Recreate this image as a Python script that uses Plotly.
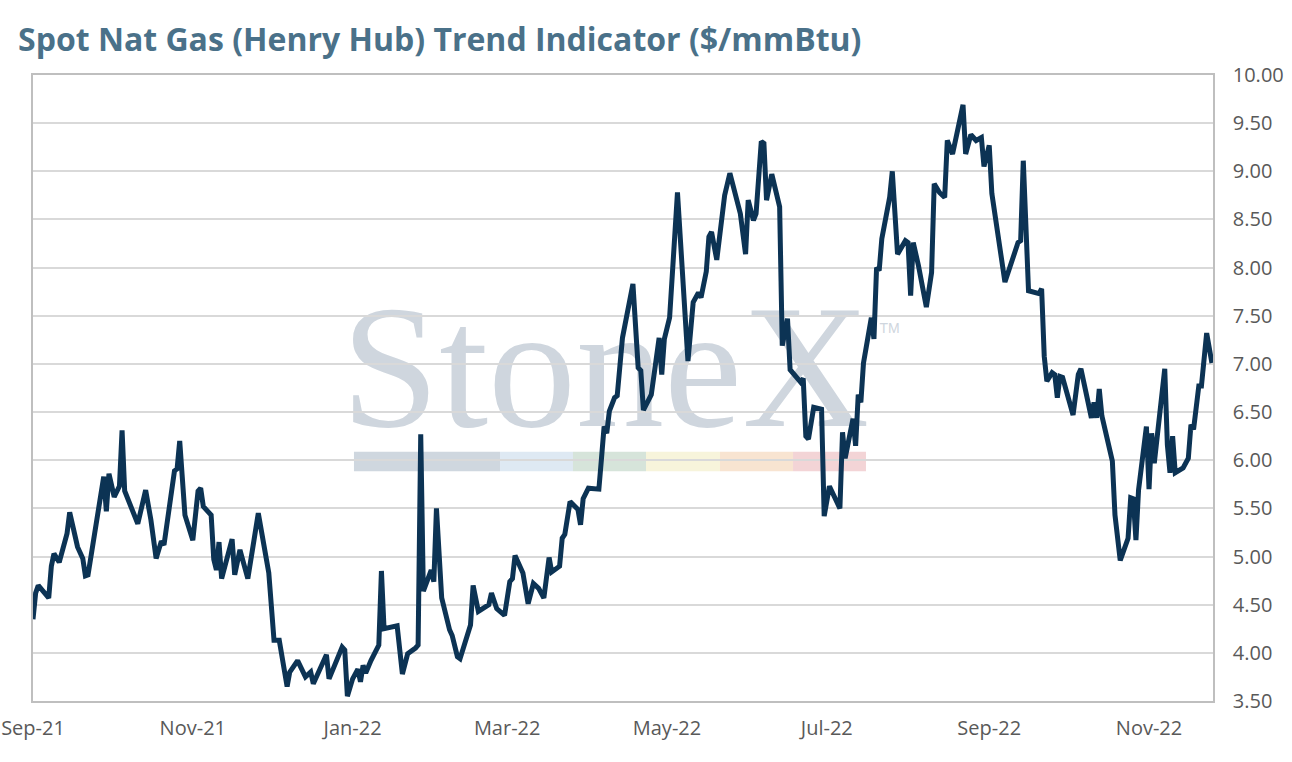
import pandas as pd
import plotly.graph_objects as go

# spot price; dates as day offsets from the first point
start_date = "2021-09-01"
day_offsets = [
    0, 1, 2, 6, 7, 8, 10, 13, 14, 17, 19, 20, 21, 26, 27, 28, 29, 31, 33, 34,
    35, 40, 43, 45, 47, 49, 50, 54, 55, 56, 58, 61, 63, 64, 65, 68, 69, 70, 71, 72,
    76, 77, 79, 82, 86, 90, 92, 94, 97, 98, 101, 104, 106, 107, 112, 113, 118, 119, 120, 122,
    124, 125, 126, 127, 129, 132, 133, 134, 139, 141, 143, 146, 147, 148, 149, 152, 153, 154, 156, 159,
    160, 162, 163, 167, 168, 170, 174, 175, 177, 180, 182, 183, 184, 187, 189, 191, 193, 195, 197, 198,
    201, 202, 203, 205, 208, 209, 210, 212, 216, 217, 218, 219, 220, 222, 223, 225, 229, 231, 232, 233,
    236, 239, 240, 241, 243, 246, 248, 250, 252, 254, 255, 257, 258, 259, 261, 264, 266, 270, 272, 273,
    275, 276, 278, 279, 280, 282, 285, 286, 288, 289, 293, 294, 295, 296, 298, 301, 302, 304, 308, 309,
    310, 313, 314, 315, 316, 317, 320, 321, 322, 323, 324, 327, 328, 330, 333, 334, 335, 336, 338, 341,
    343, 344, 346, 348, 349, 351, 355, 356, 358, 360, 362, 363, 365, 366, 371, 376, 377, 378, 380, 383,
    384, 385, 386, 387, 389, 390, 391, 392, 393, 397, 399, 400, 402, 404, 405, 406, 407, 408, 412, 413,
    415, 418, 419, 420, 421, 422, 425, 426, 427, 428, 432, 433, 434, 435, 436, 439, 441, 442, 443, 445,
    446, 448, 450,
]
price = [
    4.35, 4.62, 4.70, 4.57, 4.90, 5.03, 4.94, 5.24, 5.46, 5.10, 4.98, 4.80, 4.81, 5.69, 5.83, 5.47, 5.86, 5.62, 5.73, 6.31,
    5.68, 5.34, 5.69, 5.38, 4.98, 5.16, 5.12, 5.89, 5.91, 6.20, 5.43, 5.17, 5.68, 5.71, 5.52, 5.43, 4.97, 4.86, 5.15, 4.77,
    5.18, 4.81, 5.07, 4.77, 5.45, 4.83, 4.13, 4.13, 3.65, 3.80, 3.92, 3.75, 3.80, 3.68, 3.98, 3.73, 4.06, 4.03, 3.55, 3.73,
    3.83, 3.70, 3.87, 3.79, 3.92, 4.08, 4.85, 4.25, 4.28, 3.78, 3.99, 4.05, 4.08, 6.27, 4.64, 4.86, 4.74, 5.50, 4.57, 4.24,
    4.18, 3.96, 3.94, 4.29, 4.70, 4.43, 4.50, 4.62, 4.46, 4.39, 4.74, 4.77, 5.01, 4.83, 4.51, 4.72, 4.67, 4.57, 4.99, 4.84,
    4.90, 5.19, 5.23, 5.57, 5.49, 5.33, 5.60, 5.71, 5.70, 6.02, 6.35, 6.28, 6.51, 6.65, 6.67, 7.27, 7.83, 6.96, 6.93, 6.52,
    6.68, 7.27, 6.89, 7.26, 7.48, 8.78, 7.92, 7.03, 7.64, 7.74, 7.69, 7.96, 8.32, 8.37, 8.08, 8.75, 8.98, 8.56, 8.14, 8.70,
    8.49, 8.56, 9.31, 9.29, 8.70, 8.97, 8.63, 7.19, 7.47, 6.94, 6.81, 6.85, 6.25, 6.22, 6.55, 6.53, 5.42, 5.73, 5.50, 6.29,
    6.02, 6.43, 6.15, 6.68, 6.60, 7.01, 7.48, 7.26, 8.00, 7.97, 8.30, 8.73, 9.00, 8.14, 8.28, 8.26, 7.71, 8.26, 8.02, 7.59,
    7.95, 8.87, 8.78, 8.73, 9.32, 9.18, 9.69, 9.18, 9.38, 9.32, 9.35, 9.05, 9.27, 8.77, 7.85, 8.26, 8.28, 9.11, 7.76, 7.74,
    7.73, 7.78, 7.08, 6.82, 6.91, 6.89, 6.65, 6.87, 6.86, 6.47, 6.89, 6.95, 6.70, 6.44, 6.60, 6.44, 6.74, 6.46, 5.99, 5.43,
    4.96, 5.19, 5.61, 5.60, 5.17, 5.69, 6.35, 5.70, 6.28, 5.97, 6.95, 6.16, 5.87, 6.25, 5.87, 5.92, 6.02, 6.37, 6.32, 6.77,
    6.77, 7.32, 7.01,
]
dates = pd.Timestamp(start_date) + pd.to_timedelta(day_offsets, unit="D")

title_text = "Spot Nat Gas (Henry Hub) Trend Indicator ($/mmBtu)"

# watermark colour bar segments (paper coords of the plot area)
bar_colors = ["#cfd7df", "#dee9f3", "#d6e4da", "#f7f4db", "#f8e4d1", "#f3d4d6"]
bar_edges = [0.2720, 0.3958, 0.4576, 0.5195, 0.5822, 0.6441, 0.7059]

fig = go.Figure()
fig.add_trace(go.Scatter(
    x=dates,
    y=price,
    mode="lines",
    line=dict(color="#0c3354", width=5),
    showlegend=False,
))

shapes = []
for i, c in enumerate(bar_colors):
    shapes.append(dict(
        type="rect", xref="paper", yref="paper", layer="below",
        x0=bar_edges[i], x1=bar_edges[i + 1], y0=0.367, y1=0.398,
        fillcolor=c, line=dict(width=0),
    ))
shapes.append(dict(
    type="rect", xref="paper", yref="paper", layer="below",
    x0=0.27, x1=0.70, y0=0.474, y1=0.654,
    fillcolor="rgba(0,0,0,0)", line=dict(width=0),
    label=dict(text="StoneX", textposition="middle center",
               font=dict(family="Liberation Serif", size=176, color="#cfd6de")),
))
shapes.append(dict(
    type="rect", xref="paper", yref="paper", layer="below",
    x0=0.716, x1=0.736, y0=0.582, y1=0.612,
    fillcolor="rgba(0,0,0,0)", line=dict(width=0),
    label=dict(text="TM", textposition="middle center",
               font=dict(family="Liberation Sans", size=14, color="#cfd6de")),
))

fig.update_layout(
    width=1292,
    height=762,
    margin=dict(l=33, r=79, t=75, b=61),
    paper_bgcolor="white",
    plot_bgcolor="white",
    font=dict(family="Open Sans", color="#595959"),
    title=dict(
        text=title_text,
        x=18 / 1292, xanchor="left",
        y=1 - 40 / 762, yanchor="middle",
        font=dict(family="Open Sans", size=32, color="#4a7189", weight="bold"),
    ),
    shapes=shapes,
    xaxis=dict(
        range=["2021-09-01", "2022-11-25 10:00"],
        tick0="2021-09-01",
        dtick="M2",
        tickformat="%b-%y",
        ticks="",
        showgrid=False,
        showline=True,
        mirror=True,
        linecolor="#bfbfbf",
        linewidth=1.5,
        automargin=False,
        ticklabeloverflow="allow",
        tickfont=dict(size=20, color="#595959"),
        ticklabelstandoff=8,
    ),
    yaxis=dict(
        side="right",
        range=[3.5, 10],
        dtick=0.5,
        tickformat=".2f",
        ticks="",
        showgrid=True,
        gridcolor="#d9d9d9",
        gridwidth=1.5,
        showline=True,
        mirror=True,
        linecolor="#bfbfbf",
        linewidth=1.5,
        zeroline=False,
        automargin=False,
        ticklabeloverflow="allow",
        tickfont=dict(size=20, color="#595959"),
        ticklabelstandoff=14,
    ),
)

# drop the default page margin so the figure sits flush in the window
fig.write_html(
    "out.html",
    config={"displayModeBar": False},
    post_script="document.body.style.margin = '0px';",
)
